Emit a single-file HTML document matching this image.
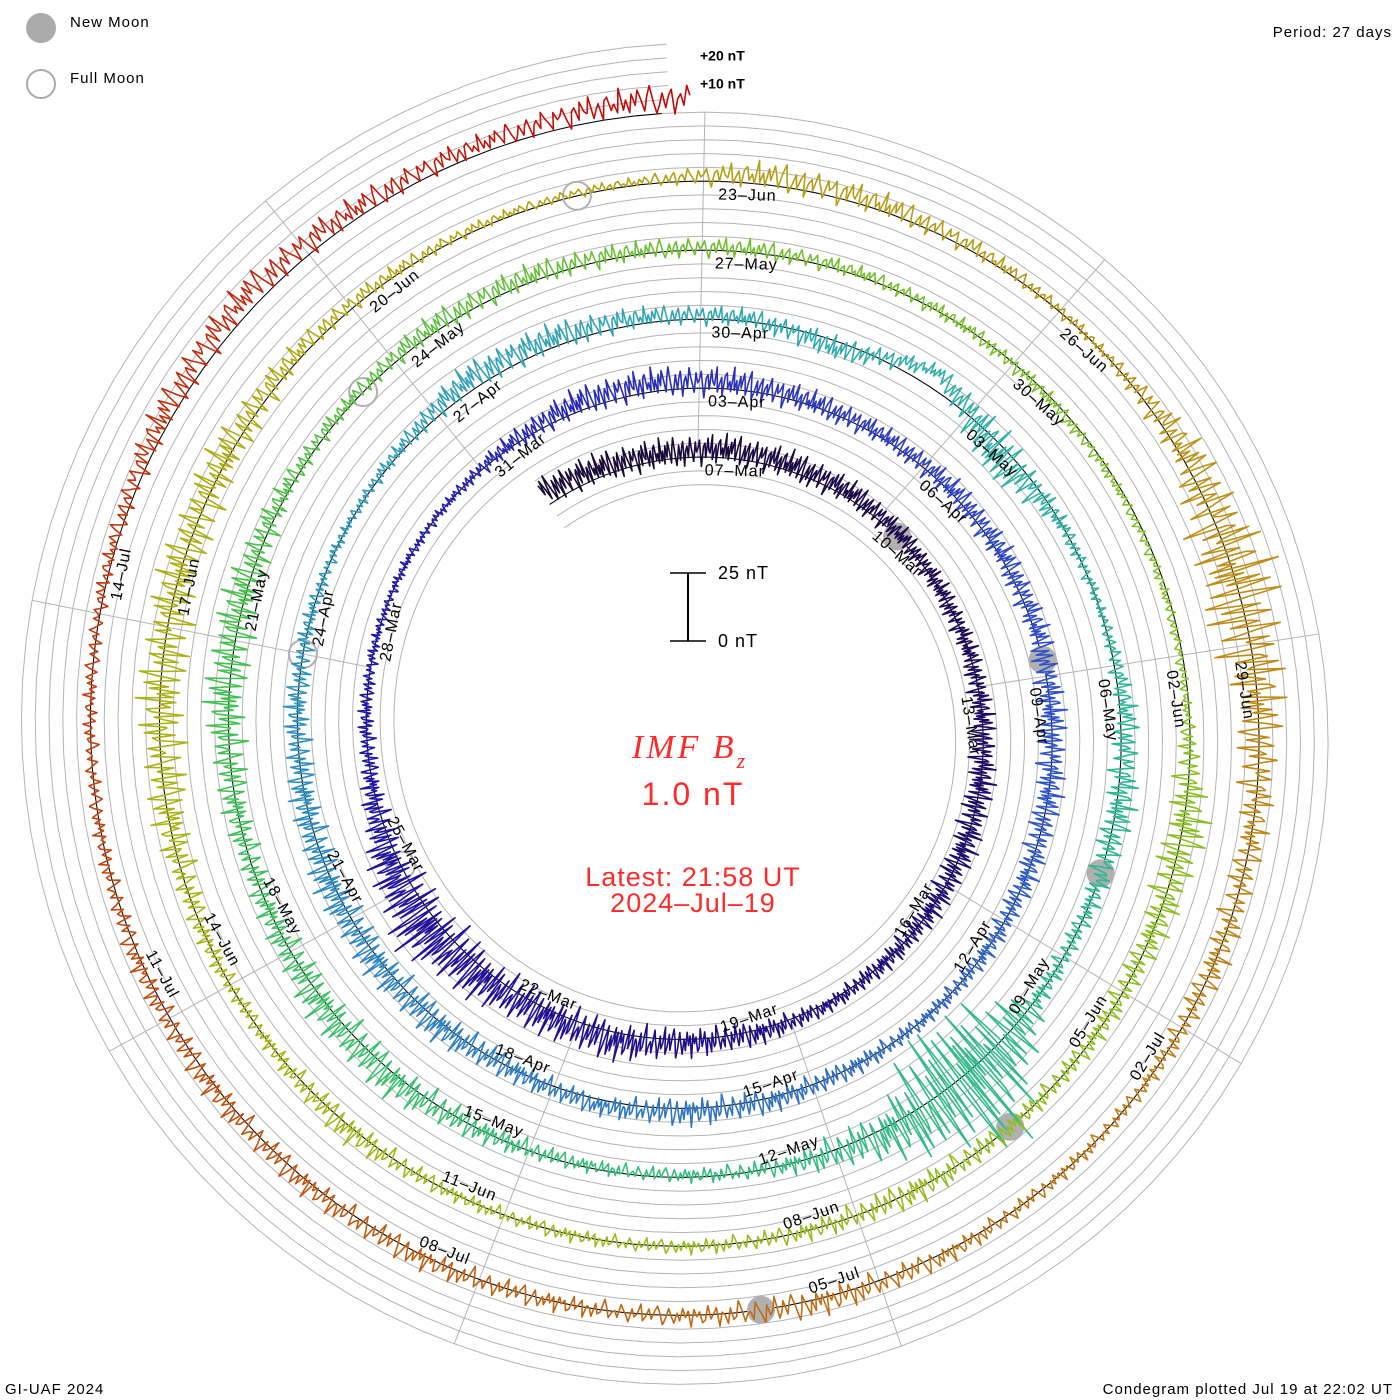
<!DOCTYPE html>
<html><head><meta charset="utf-8"><title>IMF Bz Condegram</title>
<style>
html,body{margin:0;padding:0;background:#fff;}
svg{display:block;font-family:"Liberation Sans",sans-serif;}
</style></head>
<body>
<svg id="chart" width="1400" height="1400" viewBox="0 0 1400 1400" xmlns="http://www.w3.org/2000/svg">
  <rect width="1400" height="1400" fill="#fff"/>
  <g id="grid"></g>
  <g id="spokes"></g>
  <g id="baseline"></g>
  <g id="moons"></g>
  <g id="trace"></g>
  <g id="labels"></g>

  <g>
    <circle cx="41" cy="28" r="15" fill="#aaaaaa"/>
    <text x="70" y="23" font-size="15" dominant-baseline="middle" letter-spacing="1">New Moon</text>
    <circle cx="41" cy="84" r="14" fill="none" stroke="#aaaaaa" stroke-width="2"/>
    <text x="70" y="79" font-size="15" dominant-baseline="middle" letter-spacing="1">Full Moon</text>
  </g>
  <text x="1392" y="33" font-size="15" text-anchor="end" dominant-baseline="middle" letter-spacing="1">Period: 27 days</text>
  <text x="700" y="57" font-size="14" font-weight="bold" dominant-baseline="middle">+20 nT</text>
  <text x="700" y="85" font-size="14" font-weight="bold" dominant-baseline="middle">+10 nT</text>

  <g>
    <line x1="688" y1="573" x2="688" y2="641" stroke="#000" stroke-width="2"/>
    <line x1="670" y1="573" x2="706" y2="573" stroke="#000" stroke-width="1.5"/>
    <line x1="670" y1="641" x2="706" y2="641" stroke="#000" stroke-width="1.5"/>
    <text x="718" y="574" font-size="18" dominant-baseline="middle" letter-spacing="1">25 nT</text>
    <text x="718" y="642" font-size="18" dominant-baseline="middle" letter-spacing="1">0 nT</text>
  </g>

  <g fill="#ff2a2a" text-anchor="middle">
    <text x="690" y="758" font-family="'Liberation Serif',serif" font-style="italic" font-size="34" letter-spacing="3">IMF B<tspan font-size="22" dy="10">z</tspan></text>
    <text x="693" y="805" font-size="32" letter-spacing="2">1.0 nT</text>
    <text x="693" y="886" font-size="27" letter-spacing="1">Latest: 21:58 UT</text>
    <text x="693" y="912" font-size="27" letter-spacing="1">2024–Jul–19</text>
  </g>

  <text x="5" y="1390" font-size="15" dominant-baseline="middle" letter-spacing="1">GI-UAF 2024</text>
  <text x="1393" y="1390" font-size="15" text-anchor="end" dominant-baseline="middle" letter-spacing="1">Condegram plotted Jul 19 at 22:02 UT</text>
</svg>
<script>
// ---- data (one value per day, starting 2024-Mar-04 12:00 UT) ----
const dayMean = [
 5,3,2,3,2,2,1,0,0,0, 0,0,0,0,1,1,1,3,2,3, 5,3,0,0,0,0,0,
 1,3,3,2,1,1,1,1,1,0, 0,0,0,0,0,1,1,2,0,1, 1,1,0,0,0,0,1,
 4,3,2,1,-3,6,-4,0,0,2, 1,0,0,2,2,0,-1,-1,0,2, 1,0,0,1,1,1,1,
 2,2,1,1,1,0,-1,-1,-1,-1, 1,0,0,0,0,0,0,0,0,1, 0,0,-1,-1,0,1,2,
 1,1,1,3,2,1,0,2,0,0, 0,0,0,0,1,1,0,0,1,1, 1,1,0,0,1,3,5,3,3,5
];
const daySpread = [
 6,6,6,6,6,5,4,4,4,5, 6,6,5,4,3,5,6,8,8,10, 14,8,4,3,2,2,2,
 4,6,6,6,5,4,5,5,5,6, 6,5,4,3,4,5,6,4,5,7, 7,7,6,5,3,2,3,
 6,6,4,4,5,3,10,3,2,5, 7,4,4,34,10,4,3,3,5,8, 8,5,6,9,8,4,3,
 5,5,4,4,3,3,3,2,2,2, 10,6,4,4,6,4,3,3,3,6, 3,4,8,10,9,8,4,
 3,2,2,6,5,3,2,8,18,10, 6,6,3,3,4,6,4,4,5,5, 5,4,3,3,3,6,6,5,4,6
];
const newMoonDays = [3.4, 32.8, 62.1, 91.5, 120.9];   // days after Mar 7
const fullMoonDays = [18.3, 48.0, 77.6, 107.0];
const colorDays = [-3,3,9,15,21,27,33,39,45,51,57,63,69,75,81,87,93,99,105,111,117,123,129,135];
const colorHex = ["#140a30","#1a0a4a","#1e0c70","#201090","#2018a8","#2a30b8","#3050c8","#3070c0","#3088c0","#30a0b8","#30b0a8","#30b890","#38c078","#48c050","#70c030","#88c028","#98bc20","#a8b818","#b0a810","#b89818","#c08018","#c06010","#c03c10","#c00808"];
const zig = [0.5,-0.2,0.7,0.1,-0.6,0.3,0.9,-0.1,-0.8,-0.3,0.4,-0.5,0.2,0.6,-0.9,0.0,0.3,-0.4,0.8,0.2,-0.2,-0.7,0.5,-0.1,
             0.1,0.6,-0.3,-1.0,0.2,0.4,-0.5,0.7,0.0,-0.2,0.9,-0.6,-0.1,0.3,-0.8,0.4,0.6,-0.3,0.1,-0.5,1.0,-0.4,0.2,-0.6];

// ---- geometry ----
const CX = 692, CY = 731, R0 = 274, PITCH = 69, PERIOD = 27, PXNT = 2.76, PHI0 = 1.2;
const T_START = -2.5, T_END = 134.9;
const NS = "http://www.w3.org/2000/svg";
function baseR(t){ return R0 + PITCH * t / PERIOD; }
function angDeg(t){ return PHI0 + t * 360 / PERIOD; }
function pt(t, off){ const a = angDeg(t) * Math.PI/180, r = baseR(t) + off; return [CX + r*Math.sin(a), CY - r*Math.cos(a)]; }
function hex2rgb(h){ return [parseInt(h.substr(1,2),16),parseInt(h.substr(3,2),16),parseInt(h.substr(5,2),16)]; }
function colorAt(t){
  if (t <= colorDays[0]) return colorHex[0];
  for (let i=0;i<colorDays.length-1;i++){
    if (t <= colorDays[i+1]){
      const f=(t-colorDays[i])/(colorDays[i+1]-colorDays[i]);
      const a=hex2rgb(colorHex[i]), b=hex2rgb(colorHex[i+1]);
      return "rgb("+a.map((v,k)=>Math.round(v+(b[k]-v)*f)).join(",")+")";
    }
  }
  return colorHex[colorHex.length-1];
}
function poly(pts, stroke, w, parent){
  const p = document.createElementNS(NS,"polyline");
  p.setAttribute("points", pts.map(q=>q[0].toFixed(1)+","+q[1].toFixed(1)).join(" "));
  p.setAttribute("fill","none"); p.setAttribute("stroke",stroke); p.setAttribute("stroke-width",w);
  p.setAttribute("stroke-linejoin","round");
  parent.appendChild(p);
  return p;
}

// grid spirals
const grid = document.getElementById("grid");
for (let k=-2;k<=2;k++){
  const pts=[];
  for (let t=T_START;t<=T_END+27.001;t+=0.25){
    if (t>T_END && k>0) break;
    pts.push(pt(t, k*13.8));
  }
  const g = poly(pts, "#b4b4b4", 1, grid);
  
  
}
// baseline
const bl = document.getElementById("baseline");
{
  const pts=[]; for (let t=T_START;t<=T_END;t+=0.2) pts.push(pt(t,0));
  const b = poly(pts, "#000", 1, bl);
  
  
}
// spokes every 3 days
const sp = document.getElementById("spokes");
for (let i=0;i<9;i++){
  let tFirst = i*3; while (tFirst - PERIOD >= T_START) tFirst -= PERIOD;
  if (tFirst < T_START) tFirst += PERIOD;
  let tLast = tFirst; while (tLast + PERIOD <= T_END) tLast += PERIOD;
  const a = pt(tFirst, 0), b = pt(tLast, 69);
  const l = document.createElementNS(NS,"line");
  l.setAttribute("x1",a[0]); l.setAttribute("y1",a[1]); l.setAttribute("x2",b[0]); l.setAttribute("y2",b[1]);
  l.setAttribute("stroke","#b4b4b4"); l.setAttribute("stroke-width","1");
  
  
  sp.appendChild(l);
}
// moons
const mg = document.getElementById("moons");
newMoonDays.forEach(t=>{
  const p=pt(t,0); const c=document.createElementNS(NS,"circle");
  c.setAttribute("cx",p[0]); c.setAttribute("cy",p[1]); c.setAttribute("r",14); c.setAttribute("fill","#b0b0b0");
  
  
  mg.appendChild(c);
});
fullMoonDays.forEach(t=>{
  const p=pt(t,0); const c=document.createElementNS(NS,"circle");
  c.setAttribute("cx",p[0]); c.setAttribute("cy",p[1]); c.setAttribute("r",14); c.setAttribute("fill","none");
  c.setAttribute("stroke","#b0b0b0"); c.setAttribute("stroke-width","2");
  
  
  mg.appendChild(c);
});
// trace
const tr = document.getElementById("trace");
const SUB = zig.length;
let chunk=[], prev=null, chunkT=T_START;
function flush(){
  if (chunk.length>1){
    const s = poly(chunk, colorAt(chunkT), 1.6, tr);
    
    
  }
}
for (let d=0; d<dayMean.length; d++){
  for (let k=0;k<SUB;k++){
    const f=k/SUB, t=T_START+d+f;
    if (t>T_END) break;
    const n = Math.min(d+1, dayMean.length-1);
    const m = dayMean[d]+(dayMean[n]-dayMean[d])*f;
    const s = daySpread[d]+(daySpread[n]-daySpread[d])*f;
    const v = m + s*zig[k];
    const p = pt(t, v*PXNT);
    if (chunk.length===0){ chunkT=t; if (prev) chunk.push(prev); }
    chunk.push(p); prev=p;
    if (chunk.length>=10){ flush(); chunk=[]; }
  }
}
flush();
// date labels
const lg = document.getElementById("labels");
const MON=["Jan","Feb","Mar","Apr","May","Jun","Jul","Aug","Sep","Oct","Nov","Dec"];
const base = Date.UTC(2024,2,7);
for (let t=0; t<=T_END-5; t+=3){
  const dt = new Date(base + t*86400000);
  const txt = String(dt.getUTCDate()).padStart(2,"0")+"–"+MON[dt.getUTCMonth()];
  const ang = ((angDeg(t))%360+360)%360;
  const flip = ang>90 && ang<270;
  const p = pt(t+0.12, -14);
  const el = document.createElementNS(NS,"text");
  el.setAttribute("x",p[0]); el.setAttribute("y",p[1]);
  el.setAttribute("font-size","16");
  el.setAttribute("dominant-baseline","middle");
  el.setAttribute("letter-spacing","1");
  el.setAttribute("text-anchor", flip ? "end" : "start");
  el.setAttribute("transform","rotate("+(flip?ang-180:ang).toFixed(1)+" "+p[0].toFixed(1)+" "+p[1].toFixed(1)+")");
  el.textContent = txt;
  
  
  lg.appendChild(el);
}
</script>
</body></html>
